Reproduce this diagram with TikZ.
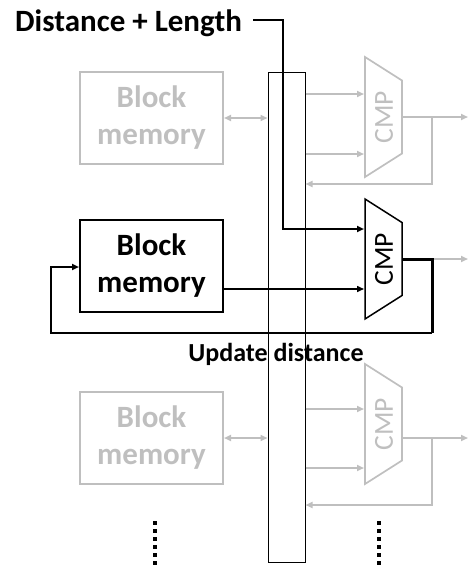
\documentclass[tikz,border=0pt]{standalone}
\usepackage{fontspec}
\setmainfont{Carlito}
\usetikzlibrary{arrows.meta}
\definecolor{lg}{RGB}{191,191,191}
\begin{document}
\begin{tikzpicture}[x=1pt,y=-1pt,
  mem/.style={draw, line width=2pt, minimum width=143pt, minimum height=92pt,
    inner sep=0pt, align=center, font=\bfseries\fontsize{31}{37}\selectfont},
  ghost/.style={draw=lg, text=lg},
  cmptxt/.style={rotate=90, inner sep=0pt, font=\fontsize{27.5}{27.5}\selectfont},
  gline/.style={draw=lg, line width=1.7pt},
  garrow/.style={gline, -{Triangle[length=7pt,width=6pt]}},
  gdbl/.style={gline, {Triangle[length=7pt,width=6pt]}-{Triangle[length=7pt,width=6pt]}},
  barrow/.style={line width=1.5pt, -{Triangle[length=7pt,width=6pt]}},
  dots/.style={line width=3.5pt, dash pattern=on 3.5pt off 4.5pt}
]
\useasboundingbox (0,0) rectangle (473,565);

% bus
\node[draw, line width=1pt, minimum width=37pt, minimum height=489.5pt, inner sep=0pt] (bus) at (286.5,317.25) {};

% blocks
\node[mem, ghost] (b1) at (151.5,118) {Block\\memory};
\node[mem] (b2) at (151.5,266) {Block\\memory};
\node[mem, ghost] (b3) at (151.5,438) {Block\\memory};

% CMP shapes
\draw[gline] (365,57) -- (402,80.5) -- (402,153.5) -- (365,177) -- cycle;
\node[cmptxt, text=lg] (c1) at (384,117) {CMP};
\draw[line width=1.5pt] (365,199) -- (402,222.5) -- (402,295.5) -- (365,319) -- cycle;
\node[cmptxt] (c2) at (384,259) {CMP};
\draw[gline] (365,364) -- (402,387.5) -- (402,460.5) -- (365,484) -- cycle;
\node[cmptxt, text=lg] (c3) at (384,424) {CMP};

% input / output coordinates
\coordinate (c1i1) at (364,94);  \coordinate (c1i2) at (364,154);
\coordinate (c1o) at (402,117);  \coordinate (c1b) at (432,117);
\coordinate (c2i1) at (364,229); \coordinate (c2i2) at (364,289);
\coordinate (c2o) at (402,259);  \coordinate (c2b) at (432,259);
\coordinate (c3i1) at (364,409); \coordinate (c3i2) at (364,468);
\coordinate (c3o) at (402,438);  \coordinate (c3b) at (432,438);
\coordinate (out1) at (468,117); \coordinate (out2) at (468,259); \coordinate (out3) at (468,438);

% ghost section 1
\draw[gdbl] (b1.east) -- (b1.east -| bus.west);
\draw[garrow] (bus.east |- c1i1) -- (c1i1);
\draw[garrow] (bus.east |- c1i2) -- (c1i2);
\draw[garrow] (c1o) -- (out1);
\draw[garrow] (c1b) -- (432,184) -- (bus.east |- 0,184);

% ghost section 3
\draw[gdbl] (b3.east) -- (b3.east -| bus.west);
\draw[garrow] (bus.east |- c3i1) -- (c3i1);
\draw[garrow] (bus.east |- c3i2) -- (c3i2);
\draw[garrow] (c3o) -- (out3);
\draw[garrow] (c3b) -- (432,505) -- (bus.east |- 0,505);

% title and distance line
\node[anchor=base west, inner sep=0pt, font=\bfseries\fontsize{31}{37}\selectfont] (title) at (15,31.5) {Distance + Length};
\draw[line width=2.5pt, -{Triangle[length=7pt,width=6pt]}] (253,20) -- (283,20) -- (283,229) -- (c2i1);

% active section
\draw[barrow] (b2.east |- c2i2) -- (c2i2);
\draw[garrow] (c2b) -- (out2);
\draw[line width=3pt] (c2o) -- (c2b) -- (432,333);
\draw[line width=2pt, -{Triangle[length=7pt,width=6pt]}] (432,333) -- (51,333) -- (51,267) -- (b2.west |- 0,267);

\node[font=\bfseries\fontsize{26}{30}\selectfont, inner sep=0pt] (upd) at (276,354) {Update distance};

% continuation dots
\draw[dots] (155,521) -- (155,566);
\draw[dots] (379,521) -- (379,566);
\end{tikzpicture}
\end{document}
